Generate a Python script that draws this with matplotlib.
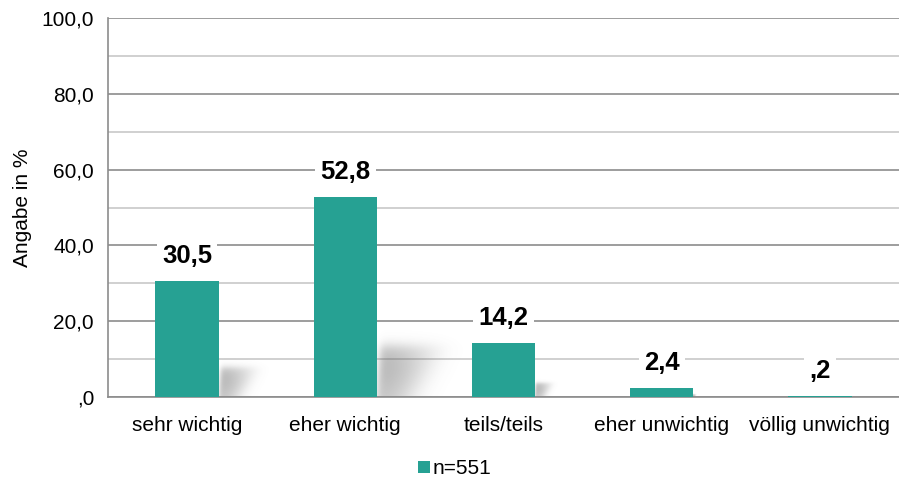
import matplotlib
matplotlib.use("Agg")
import matplotlib.pyplot as plt
import numpy as np

categories = ["sehr wichtig", "eher wichtig", "teils/teils", "eher unwichtig", "völlig unwichtig"]
values = [30.5, 52.8, 14.2, 2.4, 0.2]
value_labels = ["30,5", "52,8", "14,2", "2,4", ",2"]
yticks = [0, 20, 40, 60, 80, 100]
ytick_labels = [",0", "20,0", "40,0", "60,0", "80,0", "100,0"]
legend_label = "n=551"

plt.rcParams['font.family'] = ['Liberation Sans', 'DejaVu Sans']
color = "#26A193"

fig = plt.figure(figsize=(8.99, 4.79), dpi=100)
ax = fig.add_axes([108/899, 1 - 397/479, 791/899, (397-18)/479])

x = np.arange(len(categories))
width = 0.4


def sig(z):
    return 0.5 * (1 + np.tanh(z))


# soft perspective shadows (blurred skewed shape behind each bar)
for xi, v in zip(x, values):
    h = v * 0.30
    w = v * 0.0095
    if h < 0.5:
        continue
    x0 = xi + width / 2
    ext = [x0, x0 + 1.2 * w, 0, 1.2 * h]
    gx = np.linspace(ext[0], ext[1], 160)
    gy = np.linspace(ext[2], ext[3], 160)
    X, Y = np.meshgrid(gx, gy)
    t = Y / h
    left = x0 + 0.05 * w * t
    right = x0 + 0.45 * w + 0.5 * w * t
    a = sig((X - left) / (0.06 * w)) * sig((right - X) / (0.22 * w)) * sig((0.85 * h - Y) / (0.12 * h))
    a *= 0.42 * np.exp(-((X - x0) / (0.75 * w)) ** 2)
    a *= 0.75 + 0.25 * np.exp(-((Y - 0.5 * h) / (0.5 * h)) ** 2)
    rgba = np.zeros(X.shape + (4,))
    rgba[..., :3] = 0.35
    rgba[..., 3] = np.clip(a, 0, 1)
    ax.imshow(rgba, extent=ext, origin="lower", aspect="auto", zorder=1, interpolation="bilinear")

bars = ax.bar(x, values, width=width, color=color, zorder=3, label=legend_label)

for xi, v, lab in zip(x, values, value_labels):
    ax.text(xi, v + 3.5, lab, ha="center", va="bottom", fontsize=18.5, fontweight="bold",
            color="black", zorder=5,
            bbox=dict(boxstyle="square,pad=0.2", facecolor="white", edgecolor="none"))

ax.set_xlim(-0.5, len(categories) - 0.5)
ax.set_ylim(0, 100)
ax.set_yticks(yticks)
ax.set_yticklabels(ytick_labels, fontsize=15)
ax.set_yticks(np.arange(10, 100, 20), minor=True)
ax.set_xticks(x)
ax.set_xticklabels(categories, fontsize=15)
ax.tick_params(axis="both", which="both", length=0)
ax.tick_params(axis="x", pad=14)
ax.tick_params(axis="y", pad=10)

ax.grid(axis="y", which="major", color="#8c8c8c", linewidth=1.2, zorder=0)
ax.grid(axis="y", which="minor", color="#c8c8c8", linewidth=1.2, zorder=0)
ax.set_axisbelow(True)

for s in ["top", "right"]:
    ax.spines[s].set_visible(False)
ax.spines["left"].set_color("#8c8c8c")
ax.spines["bottom"].set_color("#8c8c8c")
ax.spines["left"].set_linewidth(1.2)
ax.spines["bottom"].set_linewidth(1.2)

ax.set_ylabel("Angabe in %", fontsize=15, labelpad=7)

fig.legend(handles=[bars], labels=[legend_label], loc="center", bbox_to_anchor=(455/899, 1 - 469/479),
           frameon=False, fontsize=15, handlelength=0.55, handleheight=0.55, handletextpad=0.15)

fig.savefig("out.png", dpi=100)
